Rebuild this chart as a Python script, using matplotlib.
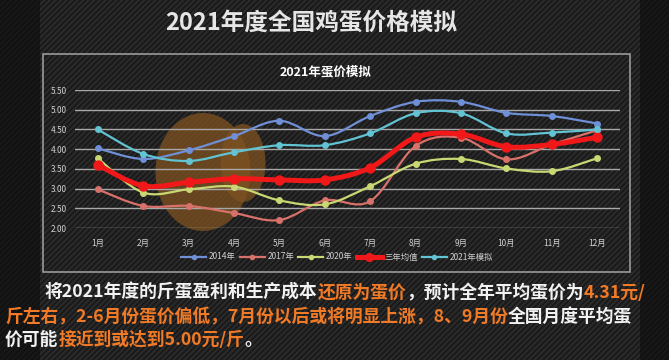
import numpy as np
import matplotlib
matplotlib.use("Agg")
import matplotlib.pyplot as plt
from matplotlib.path import Path
from matplotlib.patches import PathPatch, Rectangle, Ellipse
from matplotlib.lines import Line2D

plt.rcParams['font.family'] = ['Noto Sans CJK SC', 'DejaVu Sans']
plt.rcParams['hatch.linewidth'] = 1.6
plt.rcParams['hatch.color'] = '#2b2b2b'

# data
months = ['1月', '2月', '3月', '4月', '5月', '6月', '7月', '8月', '9月', '10月', '11月', '12月']
price_2014 = [4.02, 3.75, 3.97, 4.33, 4.72, 4.33, 4.84, 5.20, 5.20, 4.92, 4.84, 4.65]
price_2017 = [2.98, 2.56, 2.56, 2.38, 2.20, 2.70, 2.68, 4.08, 4.29, 3.74, 4.12, 4.48]
price_2020 = [3.77, 2.90, 2.98, 3.05, 2.70, 2.60, 3.06, 3.63, 3.75, 3.51, 3.44, 3.77]
price_avg = [3.60, 3.07, 3.16, 3.25, 3.22, 3.22, 3.53, 4.30, 4.38, 4.06, 4.12, 4.30]
price_2021 = [4.50, 3.88, 3.70, 3.92, 4.10, 4.10, 4.40, 4.91, 4.91, 4.40, 4.42, 4.50]
series_names = ['2014年', '2017年', '2020年', '三年均值', '2021年模拟']
yticks = [2.00, 2.50, 3.00, 3.50, 4.00, 4.50, 5.00, 5.50]

colors = ['#6f8fd6', '#d9716b', '#c9d873', '#f01818', '#62c3d2']
widths = [1.6, 1.6, 1.6, 3.6, 1.6]
msizes = [4, 4, 4, 6.5, 4]


def smooth_path(xs, ys):
    # Catmull-Rom -> cubic bezier, like a smoothed Excel line
    p = np.column_stack([xs, ys]).astype(float)
    pp = np.vstack([p[0], p, p[-1]])
    verts = [p[0]]
    codes = [Path.MOVETO]
    for i in range(1, len(pp) - 2):
        c1 = pp[i] + (pp[i + 1] - pp[i - 1]) / 6
        c2 = pp[i + 1] - (pp[i + 2] - pp[i]) / 6
        verts += [c1, c2, pp[i + 1]]
        codes += [Path.CURVE4] * 3
    return Path(verts, codes)


fig = plt.figure(figsize=(6.69, 3.60), dpi=100)
fig.patch.set_facecolor('#151515')

# background with diagonal carbon stripes
bg = fig.add_axes([0, 0, 1, 1])
bg.set_xlim(0, 669)
bg.set_ylim(360, 0)
bg.axis('off')
bg.add_patch(Rectangle((0, 0), 669, 360, facecolor='#181818', edgecolor='#2a2a2a',
                       hatch='//////', lw=0))
bg.add_patch(Rectangle((0, 0), 40, 360, facecolor='#0c0c0c', alpha=0.6, lw=0))
bg.add_patch(Rectangle((640, 0), 29, 360, facecolor='#0c0c0c', alpha=0.6, lw=0))

# chart frame
bg.add_patch(Rectangle((43, 54), 587, 218, fill=False, edgecolor='#9a9a9a', lw=1.2))

# watermark blob
bg.add_patch(Ellipse((203, 172), 95, 118, facecolor='#7e5220', alpha=0.75, lw=0))
bg.add_patch(Ellipse((243, 163), 45, 78, facecolor='#7e5220', alpha=0.75, lw=0))

bg.text(311, 23, '2021年度全国鸡蛋价格模拟', color='#e6e6e6', fontsize=17,
        fontweight='bold', ha='center', va='center')
bg.text(326, 72, '2021年蛋价模拟', color='white', fontsize=9,
        fontweight='bold', ha='center', va='center')

# main plot
ax = fig.add_axes([75 / 669, 1 - 228 / 360, 545 / 669, 138 / 360])
ax.patch.set_alpha(0)
x = np.arange(len(months))
all_series = [price_2014, price_2017, price_2020, price_avg, price_2021]
handles = []
for vals, c, lw, ms, name in zip(all_series, colors, widths, msizes, series_names):
    ax.add_patch(PathPatch(smooth_path(x, vals), fill=False, edgecolor=c, lw=lw,
                           zorder=3, capstyle='round'))
    ax.plot(x, vals, 'o', color=c, ms=ms, zorder=4)
    handles.append(Line2D([], [], color=c, lw=lw, marker='o', ms=ms - 1, label=name))

ax.set_xlim(-0.5, 11.5)
ax.set_ylim(2.0, 5.5)
ax.set_yticks(yticks)
ax.set_yticklabels(['%.2f' % v for v in yticks])
ax.set_xticks(x)
ax.set_xticklabels(months)
ax.tick_params(colors='#d0d0d0', labelsize=6, length=0)
ax.tick_params(axis='x', pad=8)
ax.tick_params(axis='y', pad=6)
ax.grid(axis='y', color='#a8a8a8', lw=1)
ax.set_axisbelow(True)
for s in ax.spines.values():
    s.set_visible(False)

leg = fig.legend(handles=handles, loc='center', bbox_to_anchor=(337 / 669, 1 - 257 / 360),
                 ncol=5, frameon=False, fontsize=6, handlelength=3, handletextpad=0.3,
                 columnspacing=0.5)
for t in leg.get_texts():
    t.set_color('#d0d0d0')

# body text with coloured pieces
orange = '#f07a26'
white = '#f2f2f2'
lines = [
    (45, 293, [('将2021年度的斤蛋盈利和生产成本', white), ('还原为蛋价', orange),
               ('，预计全年平均蛋价为', white), ('4.31元/', orange)]),
    (5, 317, [('斤左右，2-6月份蛋价偏低，7月份以后或将明显上涨，8、9月份', orange),
              ('全国月度平均蛋', white)]),
    (5, 340, [('价可能', white), ('接近到或达到5.00元/斤', orange), ('。', white)]),
]
renderer = fig.canvas.get_renderer()
for x0, y0, pieces in lines:
    xp = x0
    for s, c in pieces:
        t = bg.text(xp, y0, s, color=c, fontsize=12.8, fontweight='bold', va='center')
        bb = t.get_window_extent(renderer)
        xp += bb.width

fig.savefig('out.png', dpi=100, facecolor=fig.get_facecolor())
